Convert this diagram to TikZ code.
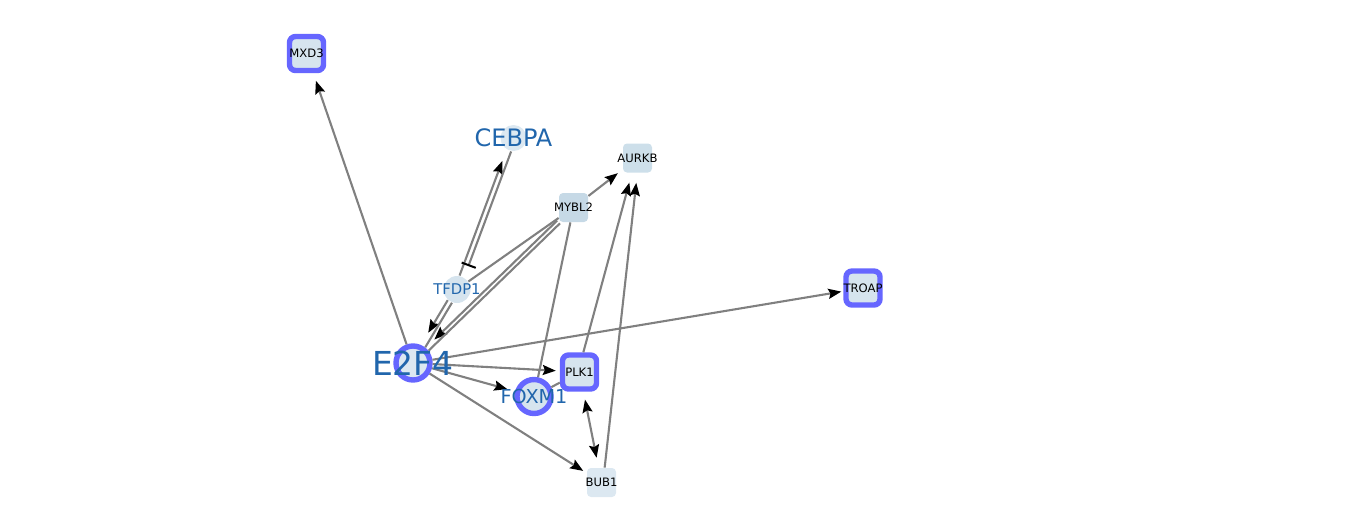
\documentclass[tikz,border=0pt]{standalone}
\usepackage{fontspec}
\setmainfont{DejaVu Sans}
\usepackage{tikz}
\usetikzlibrary{arrows.meta}
\definecolor{hubblue}{RGB}{102,102,255}
\definecolor{labblue}{RGB}{33,102,172}
\definecolor{edgegray}{RGB}{128,128,128}
\definecolor{fillA}{RGB}{214,228,238}
\definecolor{fillB}{RGB}{205,223,234}
\definecolor{fillC}{RGB}{198,217,230}
\definecolor{fillD}{RGB}{220,232,241}
\tikzstyle{hub_sq} = [rectangle, rounded corners=3pt, draw=hubblue, line width=2.7pt, fill=fillA, minimum size=17pt, inner sep=0pt]
\tikzstyle{hub_ci} = [circle, draw=hubblue, line width=2.7pt, fill=fillD, minimum size=17pt, inner sep=0pt]
\tikzstyle{gen_sq} = [rectangle, rounded corners=2pt, minimum size=14.5pt, inner sep=0pt]
\tikzstyle{gen_ci} = [circle, minimum size=13pt, inner sep=0pt]
\tikzstyle{tag} = [font=\fontsize{5.8}{6}\selectfont, text=black, inner sep=0pt]
\tikzstyle{lab} = [text=labblue, inner sep=0pt]
\tikzstyle{edge} = [draw=edgegray, line width=1.05pt]
\tikzstyle{arr} = [edge, ->, shorten >=3pt]

\begin{document}
\begin{tikzpicture}[x=0.5pt, y=-0.5pt, >={Stealth[length=6.5pt, width=5pt, inset=1pt, color=black]}]
\useasboundingbox (0,0) rectangle (1369,531);
% nodes
\node [hub_sq] (mxd3) at (306.5,53.5) {};
\node [gen_ci, fill=fillD] (cebpa) at (513.5,138) {};
\node [gen_sq, fill=fillB] (aurkb) at (637.5,158) {};
\node [gen_sq, fill=fillC] (mybl2) at (573.5,207.5) {};
\node [gen_ci, fill=fillA, minimum size=13.5pt] (tfdp1) at (457,289.5) {};
\node [hub_sq] (troap) at (863,288) {};
\node [hub_ci] (e2f4) at (413,363) {};
\node [hub_sq] (plk1) at (579.5,372) {};
\node [hub_ci, fill=fillA] (foxm1) at (534,396.5) {};
\node [gen_sq, fill=fillD] (bub1) at (601.5,482.5) {};
% edges
\draw [arr, shorten >=4pt] (e2f4) -- (mxd3);
\draw [arr, shorten >=6pt, transform canvas={shift={(-2.3,-0.9)}}] (tfdp1) -- (cebpa);
\draw [edge, -{Bar[width=7.5pt, line width=1pt, color=black]}, shorten >=6pt, transform canvas={shift={(2.3,0.9)}}] (cebpa) -- (tfdp1);
\draw [arr] (mybl2) -- (aurkb);
\draw [edge] (mybl2) -- (tfdp1);
\draw [arr, shorten >=7pt, transform canvas={shift={(-2.1,-1.3)}}] (tfdp1) -- (e2f4);
\draw [edge, transform canvas={shift={(2.1,1.3)}}] (tfdp1) -- (e2f4);
\draw [arr, shorten >=6pt, transform canvas={shift={(-1.4,-1.4)}}] (mybl2) -- (e2f4);
\draw [edge, transform canvas={shift={(1.4,1.4)}}] (mybl2) -- (e2f4);
\draw [edge] (mybl2) -- (foxm1);
\draw [arr, shorten >=5pt, transform canvas={shift={(-1.5,0)}}] (plk1) -- (aurkb);
\draw [arr, shorten >=5pt, transform canvas={shift={(1.5,0)}}] (bub1) -- (aurkb);
\draw [arr, shorten >=1pt] (e2f4) -- (troap);
\draw [arr, shorten >=2pt] (e2f4) -- (plk1);
\draw [arr, shorten >=4pt] (e2f4) -- (foxm1);
\draw [arr, shorten >=2pt] (e2f4) -- (bub1);
\draw [edge] (foxm1) -- (plk1);
\draw [edge, <->, shorten <=4pt, shorten >=5pt] (plk1) -- (bub1);
% labels
\node [tag] at (mxd3) {MXD3};
\node [tag] at (aurkb) {AURKB};
\node [tag] at (mybl2) {MYBL2};
\node [tag] at (troap) {TROAP};
\node [tag] at (plk1) {PLK1};
\node [tag] at (bub1) {BUB1};
\node [lab, font=\fontsize{12}{12}\selectfont] at (cebpa) {CEBPA};
\node [lab, font=\fontsize{7.4}{8}\selectfont] at (tfdp1) {TFDP1};
\node [lab, font=\fontsize{16.5}{17}\selectfont] at (e2f4) {E2F4};
\node [lab, font=\fontsize{9.6}{10}\selectfont] at (foxm1) {FOXM1};
\end{tikzpicture}
\end{document}
